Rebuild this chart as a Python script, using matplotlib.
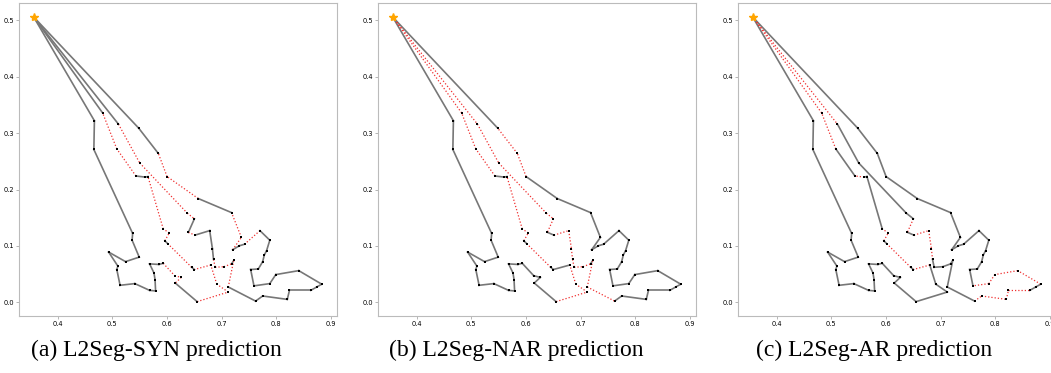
import matplotlib
matplotlib.use("Agg")
import matplotlib.pyplot as plt

# node coordinates (index 0 is the depot)
node_x = [0.356,
          0.467, 0.466, 0.537, 0.536, 0.549, 0.524, 0.493, 0.510, 0.508, 0.514,
          0.541, 0.568, 0.579, 0.578, 0.576, 0.568, 0.585, 0.593, 0.614, 0.626,
          0.615, 0.655, 0.712, 0.691, 0.680, 0.650, 0.645, 0.601, 0.596, 0.604,
          0.593, 0.565, 0.560, 0.543, 0.508, 0.482,
          0.511, 0.550, 0.637, 0.650, 0.639, 0.651, 0.678, 0.683, 0.685, 0.688,
          0.704, 0.718, 0.722, 0.712, 0.762, 0.775, 0.820, 0.824, 0.863, 0.874,
          0.883, 0.841, 0.799, 0.788, 0.759, 0.753, 0.767, 0.775, 0.778, 0.782,
          0.788, 0.770, 0.742, 0.732, 0.720, 0.736, 0.718, 0.657, 0.600, 0.584,
          0.548]
node_y = [0.506,
          0.322, 0.271, 0.122, 0.110, 0.080, 0.072, 0.089, 0.064, 0.058, 0.030,
          0.033, 0.021, 0.020, 0.040, 0.052, 0.068, 0.067, 0.069, 0.047, 0.044,
          0.034, 0.001, 0.018, 0.032, 0.066, 0.058, 0.062, 0.104, 0.109, 0.123,
          0.130, 0.223, 0.222, 0.224, 0.272, 0.336,
          0.316, 0.247, 0.158, 0.148, 0.124, 0.119, 0.127, 0.095, 0.076, 0.062,
          0.063, 0.068, 0.074, 0.027, 0.002, 0.011, 0.005, 0.021, 0.021, 0.027,
          0.032, 0.056, 0.049, 0.033, 0.029, 0.058, 0.059, 0.072, 0.084, 0.091,
          0.110, 0.127, 0.103, 0.100, 0.093, 0.115, 0.159, 0.184, 0.223, 0.264,
          0.309]

# two tours, as node indices
route1 = [0] + list(range(1, 37)) + [0]
route2 = [0] + list(range(37, 78)) + [0]

# edges drawn as red dotted in each panel
red_a = [(18, 19), (19, 20), (20, 21), (22, 23), (23, 24), (24, 25), (25, 26),
         (27, 28), (29, 30), (30, 31), (31, 32), (34, 35), (35, 36),
         (37, 38), (38, 39), (39, 40), (41, 42), (45, 46), (46, 47), (47, 48),
         (49, 50), (68, 69), (71, 72), (72, 73), (74, 75), (75, 76)]
red_b = [(0, 36), (35, 36), (34, 35), (31, 32), (30, 31), (29, 30), (27, 28),
         (24, 25), (23, 24), (22, 23),
         (0, 37), (37, 38), (38, 39), (39, 40), (40, 41), (42, 43), (43, 44),
         (44, 45), (45, 46), (46, 47), (47, 48), (49, 50), (50, 51), (75, 76),
         (76, 77)]
red_c = [(0, 36), (35, 36), (33, 34), (30, 31), (29, 30), (27, 28), (25, 26),
         (0, 37), (40, 41), (42, 43), (43, 44), (44, 45), (51, 52), (52, 53),
         (53, 54), (54, 55), (57, 58), (58, 59), (59, 60), (60, 61)]

captions = ["(a) L2Seg-SYN prediction", "(b) L2Seg-NAR prediction",
            "(c) L2Seg-AR prediction"]
x_ticks = [0.4, 0.5, 0.6, 0.7, 0.8, 0.9]
y_ticks = [0.0, 0.1, 0.2, 0.3, 0.4, 0.5]

W, H = 1051, 373
fig = plt.figure(figsize=(W / 100, H / 100), dpi=100)

panel_left = [19, 378, 738]
caption_x = [156, 516, 874]

for k, red in enumerate([red_a, red_b, red_c]):
    ax = fig.add_axes([panel_left[k] / W, (H - 316) / H, 318 / W, 313 / H])
    red_set = set(frozenset(e) for e in red)
    for route in (route1, route2):
        for i, j in zip(route[:-1], route[1:]):
            xs = [node_x[i], node_x[j]]
            ys = [node_y[i], node_y[j]]
            if frozenset((i, j)) in red_set:
                ax.plot(xs, ys, color='#f03030', linestyle=(0, (1, 1.6)),
                        linewidth=0.9, zorder=2)
            else:
                ax.plot(xs, ys, color='#777777', linewidth=1.2, zorder=1)
    ax.scatter(node_x[1:], node_y[1:], s=4, c='black', marker='s', zorder=3, linewidths=0)
    ax.plot(node_x[0], node_y[0], marker='*', color='orange', markersize=6, zorder=4)
    ax.set_xlim(0.329, 0.911)
    ax.set_ylim(-0.0245, 0.531)
    ax.set_xticks(x_ticks)
    ax.set_yticks(y_ticks)
    ax.tick_params(labelsize=4.8, length=2, width=0.5, pad=1.5, color='#999999')
    for s in ax.spines.values():
        s.set_color('#bbbbbb')
        s.set_linewidth(0.8)
    fig.text(caption_x[k] / W, 1 - 350 / H, captions[k], ha='center', va='center',
             fontsize=17, family='Liberation Serif')

fig.savefig('out.png', dpi=100)
